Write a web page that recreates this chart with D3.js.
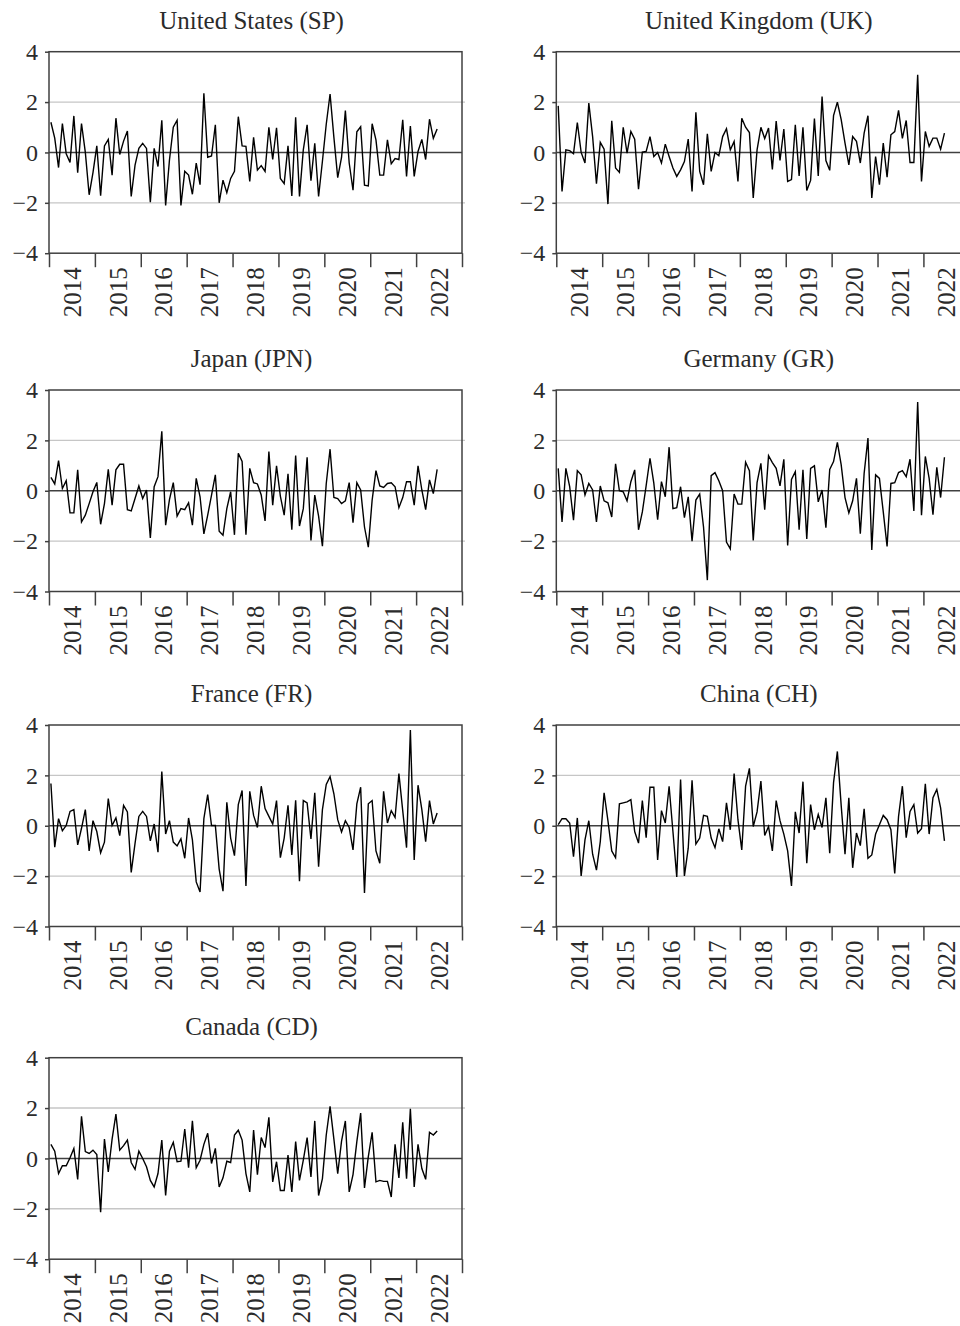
<!DOCTYPE html>
<html>
<head>
<meta charset="utf-8">
<script src="https://cdn.jsdelivr.net/npm/d3@7"></script>
<style>
  body { margin: 0; background: #fff; }
  svg { display: block; font-family: "Liberation Serif", "Times New Roman", serif; }
</style>
</head>
<body>
<svg id="chart" width="960" height="1326"></svg>
<script>
// Monthly series, Jan 2014 .. Jun 2022 (102 months each)
const yearLabels = ["2014", "2015", "2016", "2017", "2018", "2019", "2020", "2021", "2022"];
const yTicks = [-4, -2, 0, 2, 4];

const usValues = [
  1.2, 0.57, -0.6, 1.15, -0.05, -0.4, 1.45, -0.8, 1.15, 0.0,
  -1.68, -0.8, 0.26, -1.72, 0.26, 0.52, -0.9, 1.36, -0.08, 0.45,
  0.85, -1.75, -0.5, 0.16, 0.36, 0.16, -1.98, 0.16, -0.56, 1.28,
  -2.1, -0.3, 1.0, 1.28, -2.1, -0.75, -0.9, -1.66, -0.42, -1.28,
  2.35, -0.19, -0.14, 1.1, -2.0, -1.1, -1.6, -1.03, -0.75, 1.42,
  0.26, 0.24, -1.15, 0.6, -0.7, -0.52, -0.75, 1.0, -0.28, 0.98,
  -1.03, -1.24, 0.26, -1.73, 1.4, -1.75, 0.1, 1.1, -1.12, 0.36,
  -1.75, -0.35, 1.12, 2.32, 0.6, -1.0, -0.2, 1.66, -0.42, -1.5,
  0.82, 1.02, -1.3, -1.33, 1.14, 0.5, -0.9, -0.9, 0.5, -0.45,
  -0.24, -0.28, 1.3, -0.95, 1.05, -0.95, 0.04, 0.52, -0.28, 1.32,
  0.56, 0.93
];

const ukValues = [
  1.85, -1.55, 0.1, 0.07, -0.05, 1.19, 0.0, -0.42, 1.96, 0.63,
  -1.24, 0.4, 0.13, -2.05, 1.26, -0.62, -0.79, 1.0, -0.03, 0.83,
  0.53, -1.46, 0.01, 0.04, 0.63, -0.16, 0.0, -0.42, 0.33, -0.16,
  -0.62, -0.95, -0.69, -0.36, 0.53, -1.55, 1.59, -0.75, -1.28, 0.74,
  -0.75, 0.0, -0.13, 0.63, 0.94, 0.1, 0.44, -1.15, 1.36, 1.0,
  0.79, -1.81, 0.1, 1.0, 0.55, 0.97, -0.67, 1.25, -0.32, 0.93,
  -1.15, -1.08, 1.1, -0.93, 1.0, -1.51, -1.11, 1.35, -0.93, 2.22,
  -0.32, -0.71, 1.46, 2.0, 1.3, 0.37, -0.49, 0.63, 0.44, -0.42,
  0.77, 1.46, -1.81, -0.16, -1.28, 0.37, -0.98, 0.7, 0.83, 1.67,
  0.56, 1.27, -0.4, -0.4, 3.08, -1.15, 0.83, 0.24, 0.57, 0.57,
  0.13, 0.77
];

const jpValues = [
  0.53, 0.27, 1.2, 0.09, 0.4, -0.88, -0.88, 0.83, -1.24, -0.97,
  -0.51, -0.04, 0.33, -1.33, -0.51, 0.85, -0.57, 0.83, 1.05, 1.05,
  -0.75, -0.8, -0.31, 0.19, -0.31, 0.03, -1.87, 0.16, 0.56, 2.36,
  -1.37, -0.35, 0.32, -1.01, -0.71, -0.75, -0.48, -1.37, 0.49, -0.24,
  -1.71, -0.97, -0.17, 0.63, -1.61, -1.77, -0.71, -0.04, -1.75, 1.49,
  1.16, -1.75, 0.89, 0.32, 0.27, -0.17, -1.2, 1.56, -0.57, 0.99,
  -0.21, -0.97, 0.67, -1.55, 1.4, -1.4, -0.71, 1.33, -1.97, -0.17,
  -1.01, -2.2, 0.29, 1.65, -0.27, -0.31, -0.51, -0.4, 0.32, -1.27,
  0.32, 0.03, -1.44, -2.24, -0.37, 0.8, 0.19, 0.13, 0.29, 0.32,
  0.16, -0.67, -0.27, 0.36, 0.36, -0.57, 0.99, 0.03, -0.75, 0.43,
  -0.11, 0.85
];

const grValues = [
  0.89, -1.24, 0.89, 0.16, -1.17, 0.8, 0.63, -0.17, 0.29, 0.03,
  -1.24, 0.19, -0.4, -0.48, -1.04, 1.07, 0.0, -0.04, -0.4, 0.36,
  0.83, -1.55, -0.84, 0.2, 1.29, 0.3, -1.15, 0.36, -0.24, 1.73,
  -0.71, -0.67, 0.16, -1.07, -0.24, -2.0, -0.37, -0.13, -1.44, -3.55,
  0.6, 0.72, 0.4, 0.0, -2.04, -2.31, -0.13, -0.53, -0.53, 1.13,
  0.8, -1.97, 0.32, 1.09, -0.75, 1.39, 1.12, 0.89, 0.19, 1.25,
  -2.17, 0.45, 0.76, -1.55, 0.83, -1.91, 0.89, 0.99, -0.44, 0.03,
  -1.47, 0.85, 1.16, 1.92, 1.03, -0.27, -0.88, -0.4, 0.49, -1.71,
  0.69, 2.09, -2.35, 0.63, 0.49, -0.84, -2.21, 0.29, 0.32, 0.72,
  0.8, 0.56, 1.25, -0.8, 3.52, -0.97, 1.36, 0.49, -0.95, 0.93,
  -0.27, 1.33
];

const frValues = [
  1.68, -0.85, 0.28, -0.2, 0.01, 0.57, 0.64, -0.76, -0.1, 0.64,
  -1.0, 0.2, -0.23, -1.07, -0.65, 1.08, 0.01, 0.31, -0.39, 0.81,
  0.55, -1.85, -0.7, 0.37, 0.57, 0.37, -0.6, 0.07, -1.05, 2.15,
  -0.33, 0.2, -0.65, -0.8, -0.52, -1.29, 0.31, -0.56, -2.23, -2.63,
  0.28, 1.24, 0.01, 0.01, -1.72, -2.6, 0.93, -0.49, -1.19, 0.84,
  1.4, -2.39, 1.37, 0.41, -0.07, 1.57, 0.68, 0.37, 0.07, 1.0,
  -1.27, -0.49, 0.81, -1.16, 1.01, -2.2, 1.0, 0.91, -0.52, 1.31,
  -1.63, 0.64, 1.64, 1.95, 1.27, 0.24, -0.25, 0.2, -0.07, -0.96,
  0.87, 1.53, -2.67, 0.87, 1.0, -1.0, -1.49, 1.37, 0.11, 0.6,
  0.33, 2.07, 0.6, -0.87, 3.8, -1.36, 1.61, 0.64, -0.63, 1.0,
  0.07, 0.51
];

const chValues = [
  0.04, 0.28, 0.28, 0.11, -1.23, 0.31, -1.99, -0.56, 0.2, -1.13,
  -1.76, -0.63, 1.31, 0.2, -1.0, -1.27, 0.87, 0.91, 0.95, 1.04,
  -0.23, -0.69, 1.0, -0.47, 1.53, 1.53, -1.36, 0.6, 0.11, 1.57,
  -0.23, -2.03, 1.84, -1.99, -0.89, 1.8, -0.73, -0.49, 0.41, 0.37,
  -0.49, -0.87, -0.12, -0.63, 0.91, -0.16, 2.07, 0.24, -0.96, 1.57,
  2.28, -0.03, 0.55, 1.77, -0.39, -0.03, -1.0, 1.0, 0.2, -0.33,
  -1.0, -2.39, 0.55, -0.29, 1.75, -1.49, 0.84, -0.16, 0.45, -0.07,
  1.11, -1.09, 1.71, 2.95, 0.8, -1.13, 1.11, -1.67, -0.29, -0.79,
  0.67, -1.29, -1.16, -0.33, 0.04, 0.41, 0.24, -0.16, -1.89, 0.37,
  1.57, -0.47, 0.57, 0.84, -0.29, -0.12, 1.67, -0.33, 1.11, 1.44,
  0.71, -0.6
];

const cdValues = [
  0.56, 0.29, -0.6, -0.29, -0.29, 0.03, 0.4, -0.83, 1.67, 0.27,
  0.2, 0.33, 0.16, -2.13, 0.77, -0.53, 0.77, 1.76, 0.33, 0.51,
  0.73, -0.16, -0.43, 0.29, 0.0, -0.33, -0.87, -1.13, -0.6, 0.73,
  -1.47, 0.29, 0.64, -0.13, -0.11, 1.17, -0.37, 1.49, -0.37, -0.07,
  0.56, 1.0, -0.2, 0.4, -1.13, -0.77, -0.11, -0.16, 0.93, 1.12,
  0.73, -0.6, -1.33, 1.13, -0.64, 0.83, 0.43, 1.63, -0.93, -0.13,
  -1.27, -1.27, 0.13, -1.33, 0.67, -0.87, -0.07, 0.83, -0.73, 1.49,
  -1.47, -0.8, 0.93, 2.07, 0.77, -0.6, 0.69, 1.49, -1.33, -0.64,
  0.67, 1.8, -1.17, 0.07, 1.04, -0.93, -0.87, -0.91, -0.91, -1.53,
  0.56, -0.77, 1.44, -0.8, 1.97, -1.13, 0.56, -0.4, -0.83, 1.04,
  0.93, 1.09
];

const panels = [
  { title: "United States (SP)", values: usValues },
  { title: "United Kingdom (UK)", values: ukValues },
  { title: "Japan (JPN)", values: jpValues },
  { title: "Germany (GR)", values: grValues },
  { title: "France (FR)", values: frValues },
  { title: "China (CH)", values: chValues },
  { title: "Canada (CD)", values: cdValues }
];

// layout
const colX = [49, 556.3];
const rowY = [51.7, 390, 725, 1057.7];
const plotW = 413;
const plotH = 201.5;
const frameColor = "#404040";
const textColor = "#2b2b2b";

const svg = d3.select("#chart");

function drawPanel(panel, idx) {
  const left = colX[idx % 2];
  const top = rowY[Math.floor(idx / 2)];
  const nMonths = yearLabels.length * 12;

  const x = d3.scaleLinear().domain([0, nMonths]).range([0, plotW]);
  const y = d3.scaleLinear().domain([-4, 4]).range([plotH, 0]);

  const g = svg.append("g").attr("transform", `translate(${left},${top})`);

  // title
  g.append("text")
    .attr("x", plotW / 2 - 4)
    .attr("y", -23)
    .attr("text-anchor", "middle")
    .attr("font-size", 25)
    .attr("fill", textColor)
    .text(panel.title);

  // light gridlines at +-2
  g.selectAll(".grid")
    .data([-2, 2])
    .join("line")
    .attr("class", "grid")
    .attr("x1", 0)
    .attr("x2", plotW + 3)
    .attr("y1", (d) => y(d))
    .attr("y2", (d) => y(d))
    .attr("stroke", "#c6c6c6")
    .attr("stroke-width", 1.4);

  // zero line
  g.append("line")
    .attr("x1", 0)
    .attr("x2", plotW)
    .attr("y1", y(0))
    .attr("y2", y(0))
    .attr("stroke", frameColor)
    .attr("stroke-width", 1.4);

  // series
  const line = d3.line()
    .x((d, i) => x(i + 0.5))
    .y((d) => y(d));

  g.append("path")
    .datum(panel.values)
    .attr("d", line)
    .attr("fill", "none")
    .attr("stroke", "#000")
    .attr("stroke-width", 1.4)
    .attr("stroke-linejoin", "miter");

  // frame
  g.append("rect")
    .attr("x", 0)
    .attr("y", 0)
    .attr("width", plotW)
    .attr("height", plotH)
    .attr("fill", "none")
    .attr("stroke", frameColor)
    .attr("stroke-width", 1.5);

  // y axis
  const yAxis = g.append("g")
    .call(
      d3.axisLeft(y)
        .tickValues(yTicks)
        .tickSize(4)
        .tickPadding(7)
        .tickFormat((d) => (d < 0 ? "\u2212" + Math.abs(d) : String(d)))
    );
  yAxis.select(".domain").remove();
  yAxis.selectAll("line").attr("stroke", frameColor).attr("stroke-width", 1.5);
  yAxis.selectAll("text")
    .attr("font-size", 24)
    .attr("font-family", "Liberation Serif, serif")
    .attr("fill", textColor);

  // x axis: year boundaries as ticks, labels in the middle of each year
  const xAxis = g.append("g")
    .attr("transform", `translate(0,${plotH})`)
    .call(
      d3.axisBottom(x)
        .tickValues(d3.range(0, nMonths + 1, 12))
        .tickSize(14)
        .tickFormat("")
    );
  xAxis.select(".domain").remove();
  xAxis.selectAll("line").attr("stroke", frameColor).attr("stroke-width", 1.5);

  g.selectAll(".year")
    .data(yearLabels)
    .join("text")
    .attr("class", "year")
    .attr("transform", (d, i) => `translate(${x(i * 12 + 6)},${plotH + 14}) rotate(-90)`)
    .attr("text-anchor", "end")
    .attr("dy", "0.35em")
    .attr("font-size", 25)
    .attr("fill", textColor)
    .text((d) => d);
}

panels.forEach(drawPanel);
</script>
</body>
</html>
